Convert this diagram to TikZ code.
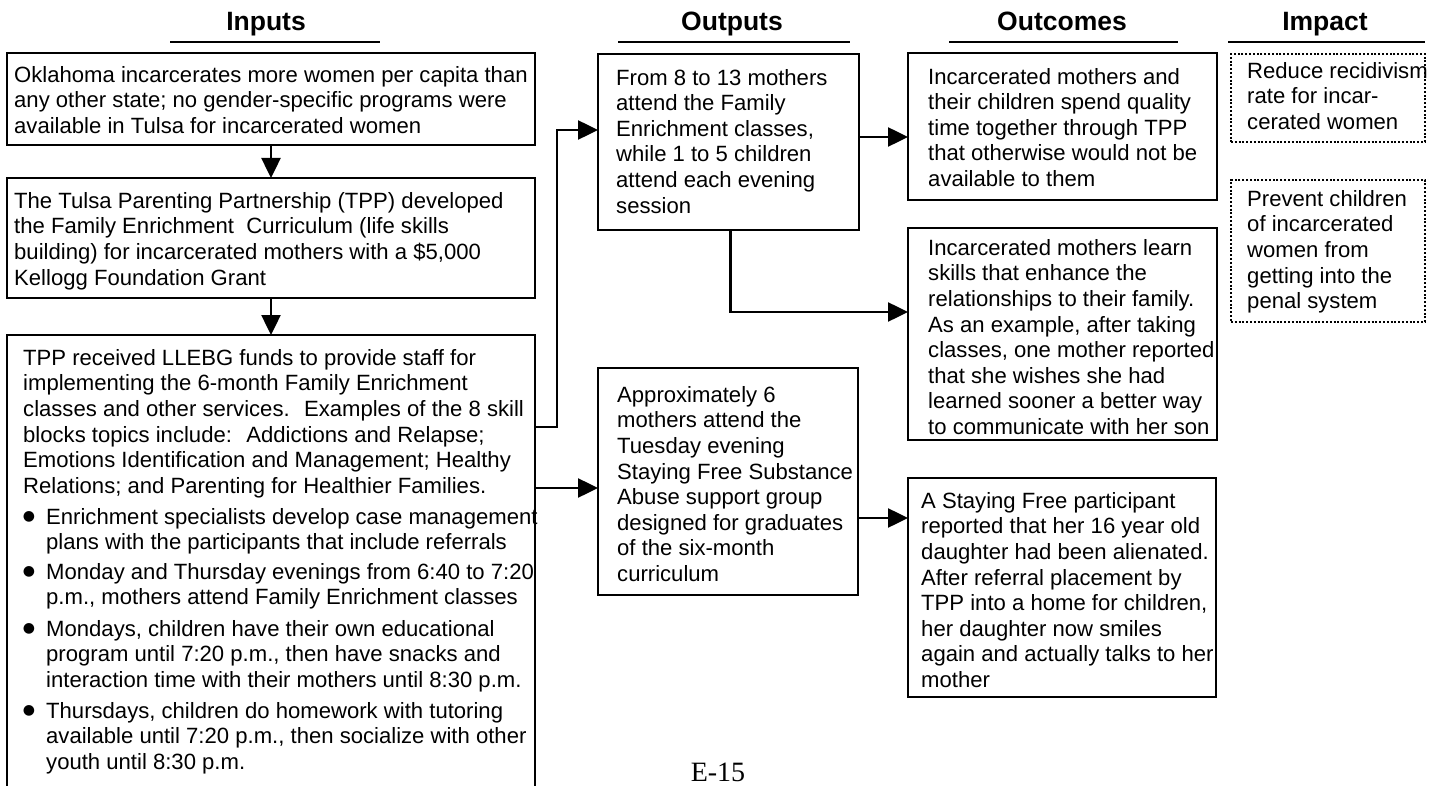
\documentclass[tikz,border=0pt]{standalone}
\usepackage{fontspec}
\setmainfont{Liberation Sans}
\newfontfamily\pageserif{Liberation Serif}
\newfontfamily\dvsans{DejaVu Sans}
\usetikzlibrary{arrows.meta,calc}
\newcommand\fst{\rule{0pt}{17pt}}
\begin{document}
\begin{tikzpicture}[x=1pt,y=-1pt,
 box/.style={draw, line width=2.7pt, inner sep=0pt, outer sep=0pt, anchor=north west},
 dotbox/.style={draw, line width=2.2pt, dash pattern=on 2pt off 1.8pt, inner sep=0pt, outer sep=0pt, anchor=north west},
 txt/.style={anchor=north west, align=left, inner sep=0pt, font=\fontsize{22.1}{25.6}\selectfont},
 bul/.style={anchor=center, inner sep=0pt, font=\dvsans\fontsize{14}{14}\selectfont},
 head/.style={anchor=base, inner sep=0pt, font=\bfseries\fontsize{26.5}{30}\selectfont},
 uline/.style={line width=2.4pt},
 conn/.style={line width=2.5pt, -{Triangle[length=20pt,width=19pt]}},
]
\useasboundingbox (0,0) rectangle (1437,786);
\clip (0,0) rectangle (1437,786);

% headings
\node[head] (hin) at (266,31) {Inputs};
\node[head] (hout) at (732,31) {Outputs};
\node[head] (hoc) at (1062,31) {Outcomes};
\node[head] (him) at (1325,31) {Impact};
\draw[uline] (170,42) -- (380,42);
\draw[uline] (618,42) -- (850,42);
\draw[uline] (949,42) -- (1178,42);
\draw[uline] (1228,42) -- (1425,42);

% input boxes
\node[box, minimum width=528pt, minimum height=92pt] (in1) at (7,53) {};
\node[box, minimum width=528pt, minimum height=120pt] (in2) at (7,178) {};
\node[box, minimum width=528pt, minimum height=500pt] (in3) at (7,335) {};

\node[txt] (in1t) at (14,65) {\fst Oklahoma incarcerates more women per capita than\\
any other state; no gender-specific programs were\\
available in Tulsa for incarcerated women};
\node[txt] (in2t) at (14,191) {\fst The Tulsa Parenting Partnership (TPP) developed\\
the Family Enrichment~ Curriculum (life skills\\
building) for incarcerated mothers with a \$5,000\\
Kellogg Foundation Grant};
\node[txt] (in3t) at (23,348) {\fst TPP received LLEBG funds to provide staff for\\
implementing the 6-month Family Enrichment\\
classes and other services.~ Examples of the 8 skill\\
blocks topics include:~ Addictions and Relapse;\\
Emotions Identification and Management; Healthy\\
Relations; and Parenting for Healthier Families.};

\node[bul] (d1) at (29,517) {●};
\node[txt] (b1) at (46,507) {\fst Enrichment specialists develop case management\\
plans with the participants that include referrals};
\node[bul] (d2) at (29,572) {●};
\node[txt] (b2) at (46,562) {\fst Monday and Thursday evenings from 6:40 to 7:20\\
p.m., mothers attend Family Enrichment classes};
\node[bul] (d3) at (29,629) {●};
\node[txt] (b3) at (46,619) {\fst Mondays, children have their own educational\\
program until 7:20 p.m., then have snacks and\\
interaction time with their mothers until 8:30 p.m.};
\node[bul] (d4) at (29,711) {●};
\node[txt] (b4) at (46,701) {\fst Thursdays, children do homework with tutoring\\
available until 7:20 p.m., then socialize with other\\
youth until 8:30 p.m.};

% outputs
\node[box, minimum width=261pt, minimum height=176pt] (out1) at (598,54) {};
\node[txt] (out1t) at (616,68) {\fst From 8 to 13 mothers\\
attend the Family\\
Enrichment classes,\\
while 1 to 5 children\\
attend each evening\\
session};
\node[box, minimum width=260pt, minimum height=227pt] (out2) at (598,368) {};
\node[txt] (out2t) at (617,385) {\fst Approximately 6\\
mothers attend the\\
Tuesday evening\\
Staying Free Substance\\
Abuse support group\\
designed for graduates\\
of the six-month\\
curriculum};

% outcomes
\node[box, minimum width=309pt, minimum height=147pt] (oc1) at (908,53) {};
\node[txt] (oc1t) at (928,67) {\fst Incarcerated mothers and\\
their children spend quality\\
time together through TPP\\
that otherwise would not be\\
available to them};
\node[box, minimum width=309pt, minimum height=212pt] (oc2) at (908,228) {};
\node[txt] (oc2t) at (928,238) {\fst Incarcerated mothers learn\\
skills that enhance the\\
relationships to their family.\\
As an example, after taking\\
classes, one mother reported\\
that she wishes she had\\
learned sooner a better way\\
to communicate with her son};
\node[box, minimum width=308pt, minimum height=219pt] (oc3) at (908,478) {};
\node[txt] (oc3t) at (921,491) {\fst A Staying Free participant\\
reported that her 16 year old\\
daughter had been alienated.\\
After referral placement by\\
TPP into a home for children,\\
her daughter now smiles\\
again and actually talks to her\\
mother};

% impact
\node[dotbox, minimum width=194pt, minimum height=88pt] (im1) at (1231,54) {};
\node[txt] (im1t) at (1247,61) {\fst Reduce recidivism\\
rate for incar-\\
cerated women};
\node[dotbox, minimum width=194pt, minimum height=142pt] (im2) at (1231,180) {};
\node[txt] (im2t) at (1247,189) {\fst Prevent children\\
of incarcerated\\
women from\\
getting into the\\
penal system};

% connectors
\draw[conn] (in1.south) -- (in2.north);
\draw[conn] (in2.south) -- (in3.north);
\coordinate (j1) at ($(in3.north east)+(0,92)$);
\draw[conn] (j1) -- ++(22,0) |- ($(out1.north west)+(0,76)$);
\coordinate (j2) at ($(in3.north east)+(0,153)$);
\draw[conn] (j2) -- (j2 -| out2.west);
\coordinate (j3) at ($(out1.north east)+(0,83)$);
\draw[conn] (j3) -- (j3 -| oc1.west);
\draw[conn] ($(out1.south)+(2,0)$) |- ($(oc2.north west)+(0,84)$);
\coordinate (j4) at ($(out2.north east)+(0,150)$);
\draw[conn] (j4) -- (j4 -| oc3.west);

% page number
\node[anchor=base, inner sep=0pt, font=\pageserif\fontsize{28}{30}\selectfont] (pg) at (718,781) {E-15};
\end{tikzpicture}
\end{document}
